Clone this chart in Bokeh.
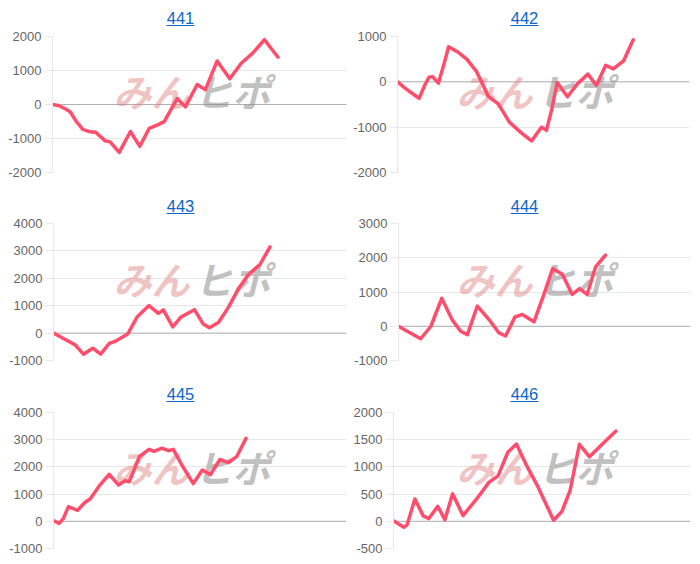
from bokeh.plotting import figure
from bokeh.layouts import column, row
from bokeh.core.properties import value
from bokeh.models import FixedTicker, Span, Label, Range1d
from bokeh.embed import file_html
from bokeh.resources import INLINE

titles = ["441", "442", "443", "444", "445", "446"]

x441 = [0,2,4.3,6,8,10.3,12.8,14.7,17.9,19.6,22.7,26.5,29.7,32.9,35.6,38,42.4,45.2,49.2,52,56,60.3,64.2,68,72.1,76.7]
y441 = [0,-30,-125,-215,-485,-730,-805,-815,-1070,-1100,-1410,-795,-1230,-700,-605,-505,175,-70,585,435,1280,755,1215,1505,1905,1390]
x442 = [0,2.9,5.7,7.4,9.4,10.8,12,14,16,17.5,20.5,23.7,27.1,29,31.1,34.5,38.4,42.2,45.9,49.3,51,52.8,54.7,58.2,61.6,65.2,68.1,71.3,73.9,77.4,80.7]
y442 = [0,-155,-285,-365,-65,100,115,-30,410,775,665,500,225,-30,-320,-485,-895,-1115,-1305,-1000,-1070,-615,-15,-330,-45,170,-80,365,285,460,925]
x443 = [0,3.4,7.4,10.2,13.4,16.1,19,21,25.3,28.6,32.6,35.8,37.5,40.7,43.4,48.1,51.1,53.2,56.3,59.7,63.1,66.5,70.5,73.9]
y443 = [0,-195,-430,-770,-550,-770,-380,-305,-35,600,1005,720,845,230,575,855,330,195,390,940,1615,2130,2510,3145]
x444 = [0,3.6,7.6,11.1,14.8,18.5,21.3,23.6,27,31,34.4,36.7,39.8,42.4,46.4,49.8,52.8,56.1,59.5,62,64.6,67.5,70.9]
y444 = [0,-175,-365,0,815,170,-145,-245,590,195,-195,-285,265,345,130,930,1685,1520,930,1100,930,1735,2080]
x445 = [0,1.9,3.4,5.1,8.2,10.8,12.5,15.6,19,22.2,24.4,25.9,29.3,32.6,34.3,37,39.2,40.9,43.8,47.7,50.8,53.6,56.8,59.7,62.5,65.7]
y445 = [25,-75,110,540,405,700,820,1300,1725,1335,1490,1455,2375,2645,2570,2690,2595,2645,2070,1385,1885,1715,2275,2155,2375,3050]
x446 = [0,3.5,4.6,7.2,10,11.9,14.9,17.3,19.9,23.4,28.2,32.1,35.2,38.5,41.4,45,48.3,53.9,56.7,59.5,62.6,66,70.1,74.9]
y446 = [10,-110,-65,410,100,50,275,30,505,105,425,715,835,1270,1420,1005,670,20,180,575,1415,1185,1405,1660]

ticks441 = [-2000,-1000,0,1000,2000]
ticks442 = [-2000,-1000,0,1000]
ticks443 = [-1000,0,1000,2000,3000,4000]
ticks444 = [-1000,0,1000,2000,3000]
ticks445 = [-1000,0,1000,2000,3000,4000]
ticks446 = [-500,0,500,1000,1500,2000]

xs = [x441,x442,x443,x444,x445,x446]
ys = [y441,y442,y443,y444,y445,y446]
tk = [ticks441,ticks442,ticks443,ticks444,ticks445,ticks446]

# layout: page coordinates of each cell and frame
cell_x = [0, 350]
cell_w = [350, 342]
cell_y = [0, 190, 378]
cell_h = [190, 188, 178]
strip_hs = [28, 25, 24]
frames = [(52,346,36,172.5),(397,689,36,172.5),(53,346,223,360),(398,690,223,360),(53,346,412,548),(393,690,412,548)]
title_cx = [180, 524]
title_base = [23, 211, 399]
mark_left = [113, 456]
mark_base = [90, 278, 466]

LINE = "#ff4d6b"
GRID = "#e8e8e8"
BLUE = "#0a66c8"
strips, figs = [], []
for i in range(6):
    r, c = i // 2, i % 2
    fl, fr, ft, fb = frames[i]
    cx, cy = cell_x[c], cell_y[r]
    w, h = cell_w[c], cell_h[r]
    strip_h = strip_hs[r]

    s = figure(width=w, height=strip_h, output_backend="svg", toolbar_location=None,
               x_range=Range1d(cx, cx + w), y_range=Range1d(cy + strip_h, cy),
               min_border=0, outline_line_color=None, border_fill_color="white",
               x_axis_type=None, y_axis_type=None)
    s.grid.visible = False
    tx, ty = title_cx[c], title_base[r]
    s.text([tx], [ty - 6], text=[titles[i]], text_font=value("Liberation Sans"), text_font_size="16.5px",
           text_color=BLUE, text_align="center", text_baseline="middle")
    s.segment([tx - 14], [ty + 2], [tx + 14], [ty + 2], line_color=BLUE, line_width=1)
    strips.append(s)

    p = figure(width=w, height=h - strip_h, output_backend="svg", toolbar_location=None,
               x_range=Range1d(0, 100), y_range=Range1d(min(tk[i]), max(tk[i])),
               min_border_left=int(fl - cx), min_border_right=int(cx + w - fr),
               min_border_top=int(round(ft - cy - strip_h)), min_border_bottom=int(round(cy + h - fb)),
               background_fill_color="white", border_fill_color="white", outline_line_color=None)
    p.xaxis.visible = False
    p.xgrid.visible = False
    p.ygrid.grid_line_color = GRID
    p.yaxis.ticker = FixedTicker(ticks=tk[i])
    p.ygrid.ticker = FixedTicker(ticks=tk[i])
    p.yaxis.major_label_overrides = {t: str(t) for t in tk[i]}
    p.yaxis.axis_line_color = GRID
    p.yaxis.major_tick_line_color = GRID
    p.yaxis.major_tick_out = 8
    p.yaxis.major_tick_in = 0
    p.yaxis.minor_tick_line_color = None
    p.yaxis.major_label_standoff = 3
    p.yaxis.major_label_text_font = "Liberation Sans"
    p.yaxis.major_label_text_font_size = "13px"
    p.yaxis.major_label_text_color = "#666666"

    p.add_layout(Span(location=0, dimension="width", line_color="#b0b0b0", line_width=1, level="underlay"))

    for txt, dx, col, alpha in [("みん", 0, "#e07a7a", 0.45), ("ヒポ", 81, "#8c8c8c", 0.55)]:
        p.add_layout(Label(x=mark_left[c] + dx - fl, y=fb - mark_base[r], x_units="screen", y_units="screen",
                           text=txt, text_font="Noto Sans CJK JP", text_font_style="bold italic",
                           text_font_size="38px", text_color=col, text_alpha=alpha,
                           text_baseline="alphabetic", level="underlay"))

    p.line(xs[i], ys[i], line_color=LINE, line_width=3.5, line_join="round", line_cap="round")
    figs.append(p)

rows = []
for r in range(3):
    rows.append(row(strips[2 * r], strips[2 * r + 1], spacing=0))
    rows.append(row(figs[2 * r], figs[2 * r + 1], spacing=0))
layout = column(*rows, spacing=0)
open("out.html", "w").write(file_html(layout, INLINE))
